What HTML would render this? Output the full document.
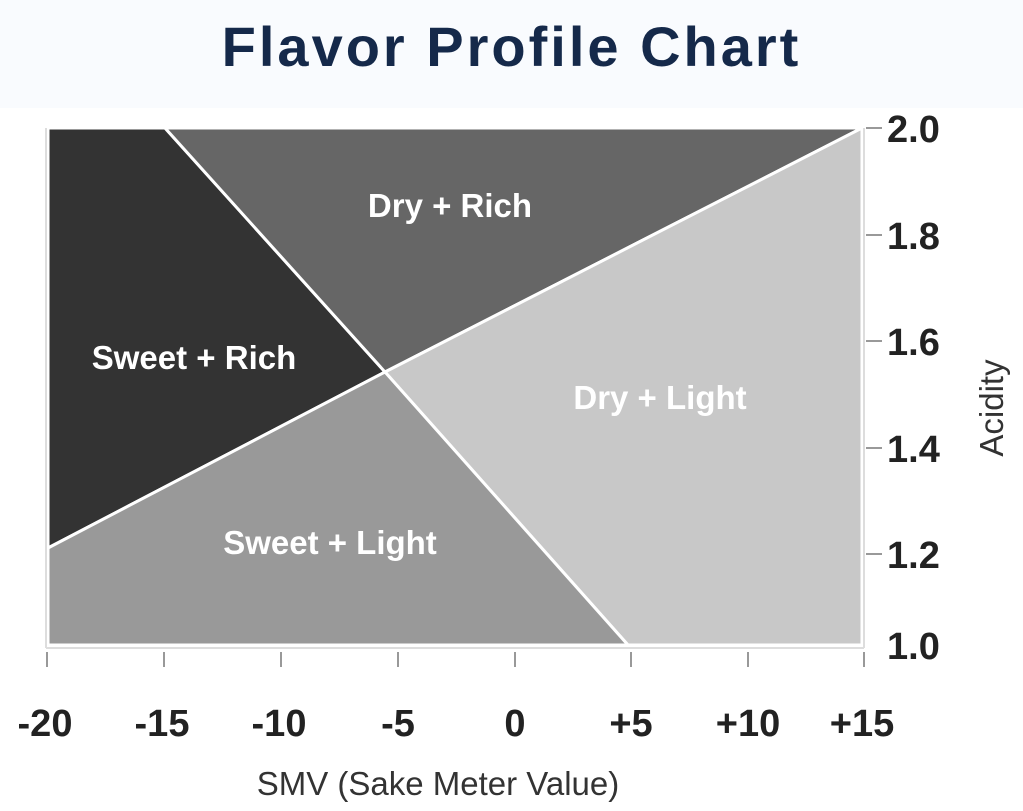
<!DOCTYPE html>
<html><head><style>
body{margin:0;width:1023px;height:811px;background:#fff;overflow:hidden;font-family:"Liberation Sans",sans-serif}
.t{position:absolute;left:0;top:0;width:1023px;height:108px;background:#f9fbfe}
.t div{text-align:center;font-weight:bold;font-size:56px;color:#15294a;line-height:94px;letter-spacing:3px}
</style></head><body>
<div class="t"><div>Flavor Profile Chart</div></div>
<svg width="1023" height="811" style="position:absolute;left:0;top:0">
<g stroke="#fff" stroke-width="3">
<polygon points="48,128 165,128 385,372 48,548" fill="#333"/>
<polygon points="165,128 862,128 385,372" fill="#666"/>
<polygon points="862,128 862,645 628,645 385,372" fill="#c8c8c8"/>
<polygon points="48,548 385,372 628,645 48,645" fill="#999"/>
</g>
<g stroke="#ddd" stroke-width="2"><line x1="46" y1="128" x2="46" y2="648"/><line x1="46" y1="648" x2="864" y2="648"/><line x1="864" y1="128" x2="864" y2="648"/></g>
<g stroke="#999" stroke-width="2">
<line x1="47" y1="652" x2="47" y2="667"/><line x1="164" y1="652" x2="164" y2="667"/><line x1="281" y1="652" x2="281" y2="667"/><line x1="398" y1="652" x2="398" y2="667"/><line x1="515" y1="652" x2="515" y2="667"/><line x1="631" y1="652" x2="631" y2="667"/><line x1="748" y1="652" x2="748" y2="667"/><line x1="864" y1="652" x2="864" y2="667"/>
<line x1="866" y1="128" x2="882" y2="128"/><line x1="866" y1="235" x2="882" y2="235"/><line x1="866" y1="341" x2="882" y2="341"/><line x1="866" y1="448" x2="882" y2="448"/><line x1="866" y1="554" x2="882" y2="554"/>
</g>
<g font-size="38" fill="#222" font-weight="bold" text-anchor="middle">
<text x="45" y="736">-20</text><text x="162" y="736">-15</text><text x="279" y="736">-10</text><text x="398" y="736">-5</text><text x="515" y="736">0</text><text x="631" y="736">+5</text><text x="748" y="736">+10</text><text x="862" y="736">+15</text>
</g>
<g font-size="38" fill="#222" font-weight="bold">
<text x="887" y="142">2.0</text><text x="887" y="249">1.8</text><text x="887" y="355">1.6</text><text x="887" y="462">1.4</text><text x="887" y="568">1.2</text><text x="887" y="659">1.0</text>
</g>
<text x="438" y="795" font-size="33" fill="#333" text-anchor="middle">SMV (Sake Meter Value)</text>
<text transform="translate(1003,408) rotate(-90)" font-size="33" fill="#333" text-anchor="middle">Acidity</text>
<g font-size="33" fill="#fff" font-weight="bold" text-anchor="middle">
<text x="450" y="217">Dry + Rich</text><text x="194" y="369">Sweet + Rich</text><text x="660" y="409">Dry + Light</text><text x="330" y="554">Sweet + Light</text>
</g>
</svg>
</body></html>
